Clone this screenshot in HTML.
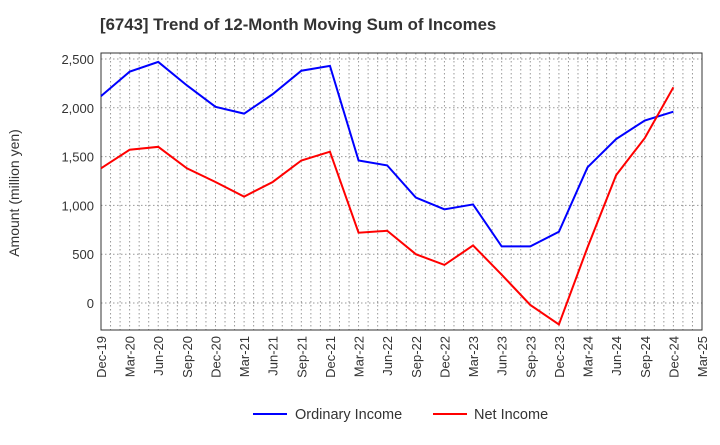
<!DOCTYPE html>
<html><head><meta charset="utf-8"><style>
body{margin:0;background:#fff;font-family:"Liberation Sans",sans-serif}
</style></head><body>
<svg id="c" width="720" height="440" xmlns="http://www.w3.org/2000/svg">
<text x="100" y="30" font-size="16.8" font-weight="bold" fill="#333">[6743]  Trend of 12-Month Moving Sum of Incomes</text>
<text transform="translate(19,193) rotate(-90)" text-anchor="middle" font-size="14" fill="#333">Amount (million yen)</text>
<g id="grid"></g><g id="axes"></g><g id="series"></g>
<g>
<line x1="253" y1="414" x2="287" y2="414" stroke="#0000ff" stroke-width="2"/>
<text x="295" y="419" font-size="14.5" fill="#333">Ordinary Income</text>
<line x1="433" y1="414" x2="467" y2="414" stroke="#ff0000" stroke-width="2"/>
<text x="474" y="419" font-size="14.5" fill="#333">Net Income</text>
</g>
</svg>
<script>
const categories=["Dec-19","Mar-20","Jun-20","Sep-20","Dec-20","Mar-21","Jun-21","Sep-21","Dec-21","Mar-22","Jun-22","Sep-22","Dec-22","Mar-23","Jun-23","Sep-23","Dec-23","Mar-24","Jun-24","Sep-24","Dec-24","Mar-25"];
const ordinaryIncome=[2120,2370,2470,2230,2010,1940,2140,2380,2430,1460,1410,1080,960,1010,580,580,730,1390,1680,1870,1960];
const netIncome=[1380,1570,1600,1380,1240,1090,1240,1460,1550,720,740,500,390,590,290,-20,-220,570,1310,1690,2210];
const yTicks=[0,500,1000,1500,2000,2500];
const L=101,R=702,T=53,B=330;
const y0=303,pxPer=48.8/500;
const ys=v=>y0-v*pxPer;
const xs=i=>L+i*(R-L)/(categories.length-1);
const NS="http://www.w3.org/2000/svg";
function mk(t,a,p){const e=document.createElementNS(NS,t);for(const k in a)e.setAttribute(k,a[k]);p.appendChild(e);return e;}
const g=document.getElementById('grid'),ax=document.getElementById('axes'),s=document.getElementById('series');
for(let m=1;m<(categories.length-1)*3;m++){const x=L+m*(R-L)/((categories.length-1)*3);
const l=mk('line',{x1:x,x2:x,y1:T,y2:B,stroke:'#999','stroke-dasharray':'1.5,2.5','stroke-width':1},g);

}
yTicks.forEach(v=>{const y=ys(v);
const l=mk('line',{x1:L,x2:R,y1:y,y2:y,stroke:'#999','stroke-dasharray':'1.5,2.5','stroke-width':1},g);


const t=mk('text',{x:L-7,y:y+5,'text-anchor':'end','font-size':13,fill:'#333'},ax);t.textContent=v.toLocaleString('en-US');

});
const fr=mk('rect',{x:L,y:T,width:R-L,height:B-T,fill:'none',stroke:'#333','stroke-width':1},ax);


categories.forEach((c,i)=>{const x=xs(i);
const t=mk('text',{transform:`translate(${x+5},${B+6}) rotate(-90)`,'text-anchor':'end','font-size':13,fill:'#333'},ax);t.textContent=c;

});
function line(d,col,name){const p=mk('polyline',{points:d.map((v,i)=>xs(i)+','+ys(v)).join(' '),fill:'none',stroke:col,'stroke-width':2},s);

}
line(ordinaryIncome,'#0000ff','ordinary-income-line');
line(netIncome,'#ff0000','net-income-line');
</script>
</body></html>
